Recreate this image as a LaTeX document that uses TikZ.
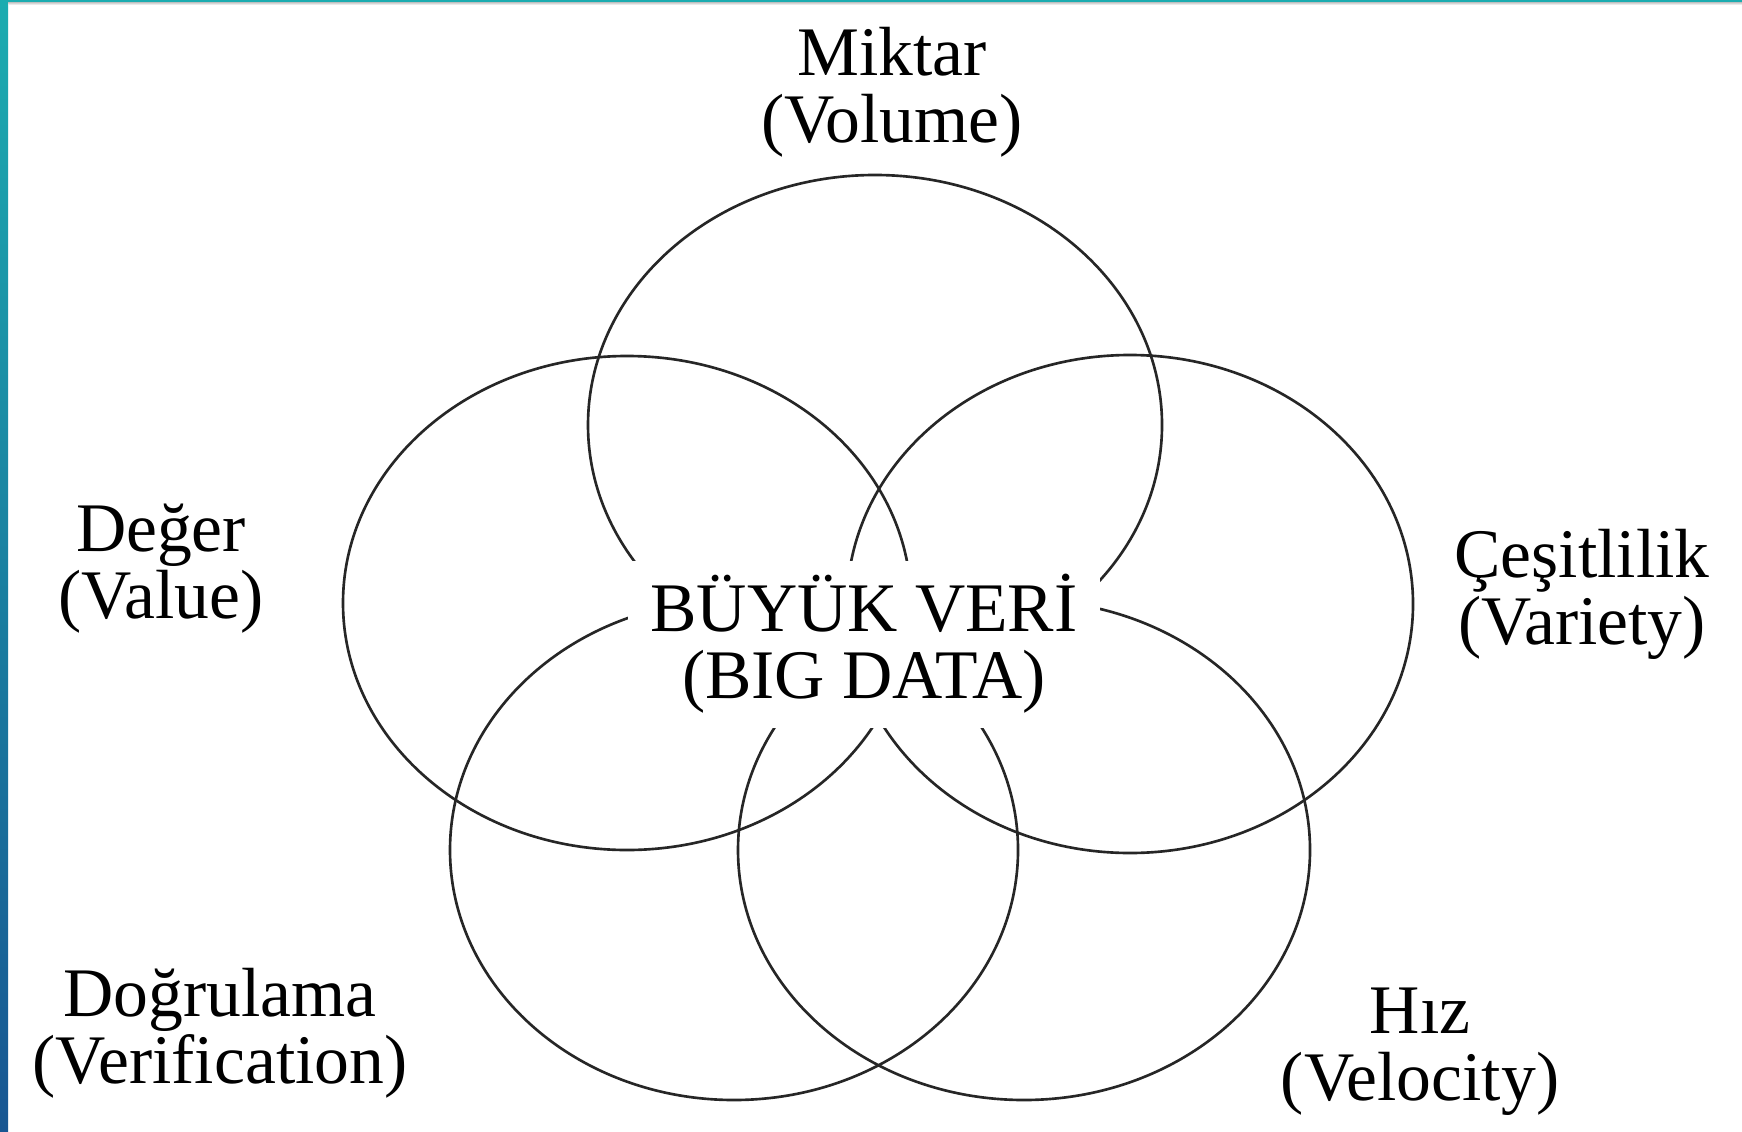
\documentclass[tikz,border=0pt]{standalone}
\usepackage{fontspec}
\setmainfont{Liberation Serif}
\usepackage{tikz}
\usepackage{xcolor}
\usetikzlibrary{positioning,calc}
\definecolor{stripteal}{RGB}{27,172,176}
\definecolor{stripblue}{RGB}{24,86,146}

\begin{document}
\begin{tikzpicture}[
    ring/.style={draw=black!85, line width=0.75pt},
    lbl/.style={align=center, font=\fontsize{19.8}{19}\selectfont, inner sep=0pt}
  ]
    % Frame
    \useasboundingbox (0,0) rectangle (17.42,11.31);
    \fill[white] (0,0) rectangle (17.42,11.31);
    \shade[bottom color=stripblue, top color=stripteal] (0,0) rectangle (0.08,11.31);
    \shade[top color=black!25, bottom color=white] (0.08,11.26) rectangle (17.42,11.29);
    \fill[stripteal] (0.08,11.29) rectangle (17.42,11.31);

    % Rings
    \draw[ring] (8.75,7.06) ellipse [x radius=2.87, y radius=2.50];
    \draw[ring] (6.27,5.28) ellipse [x radius=2.84, y radius=2.47];
    \draw[ring] (11.30,5.27) ellipse [x radius=2.83, y radius=2.49];
    \draw[ring] (7.34,2.81) ellipse [x radius=2.84, y radius=2.50];
    \draw[ring] (10.24,2.81) ellipse [x radius=2.86, y radius=2.50];

    % Centre
    \node[fill=white, minimum width=4.72cm, minimum height=1.67cm, align=center,
          font=\fontsize{19.8}{19}\selectfont] (bd) at (8.64,4.87) {B\"UY\"UK VER\.I\\(BIG DATA)};

    % Labels
    \node[lbl] (vol) at (8.92,10.39) {Miktar\\(Volume)};
    \node[lbl] (val) at (1.61,5.62) {De\u{g}er\\(Value)};
    \node[lbl] (var) at (15.82,5.37) {\c{C}e\c{s}itlilik\\(Variety)};
    \node[lbl] (ver) at (2.20,0.975) {Do\u{g}rulama\\(Verification)};
    \node[lbl] (vel) at (14.20,0.795) {H\i z\\(Velocity)};
\end{tikzpicture}
\end{document}
